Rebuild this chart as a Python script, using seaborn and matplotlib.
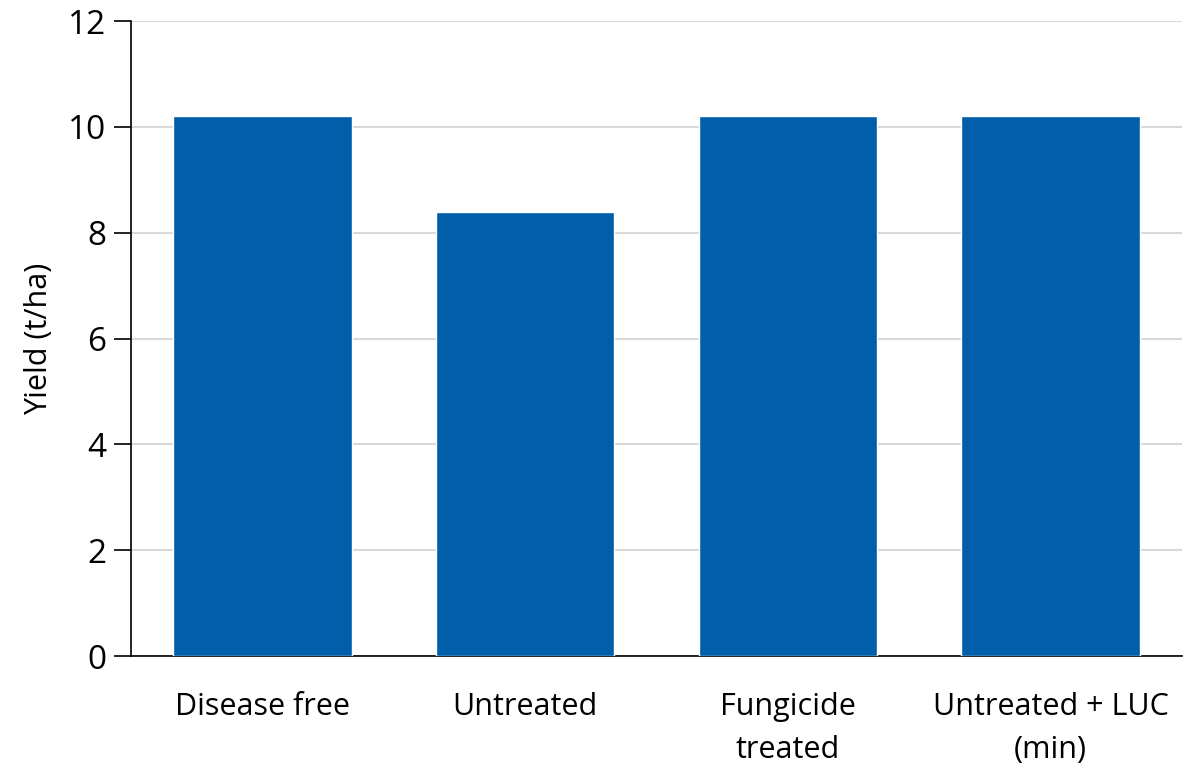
import matplotlib
matplotlib.use("Agg")
import matplotlib.pyplot as plt
import pandas as pd
import seaborn as sns

# values
categories = ["Disease free", "Untreated", "Fungicide\ntreated", "Untreated + LUC\n(min)"]
yield_t_ha = [10.2, 8.4, 10.2, 10.2]
y_ticks = [0, 2, 4, 6, 8, 10, 12]

df = pd.DataFrame({"treatment": categories, "yield": yield_t_ha})

sns.set_style("white")
plt.rcParams["font.family"] = ["Open Sans", "DejaVu Sans"]
plt.rcParams["text.color"] = "black"
plt.rcParams["axes.labelcolor"] = "black"
plt.rcParams["xtick.color"] = "black"
plt.rcParams["ytick.color"] = "black"

fig = plt.figure(figsize=(11.91, 7.70), dpi=100)
ax = fig.add_axes([0.110, 0.148, 0.8825, 0.8247])

sns.barplot(data=df, x="treatment", y="yield", color="#005EAA",
            saturation=1, width=0.68, ax=ax, zorder=3)

ax.set_ylim(0, 12)
ax.set_yticks(y_ticks)
ax.yaxis.grid(True, color="#d9d9d9", linewidth=1.5, zorder=0)
ax.set_axisbelow(True)

for side in ["top", "right"]:
    ax.spines[side].set_visible(False)
for side in ["left", "bottom"]:
    ax.spines[side].set_color("black")
    ax.spines[side].set_linewidth(1.2)

ax.tick_params(axis="y", which="major", length=12, width=1.2, color="black",
               labelsize=24, labelcolor="black", pad=6, left=True)
ax.tick_params(axis="x", length=0, labelsize=22, labelcolor="black", pad=26)
for lbl in ax.get_xticklabels():
    lbl.set_linespacing(1.55)

ax.set_xlabel("")
ax.set_ylabel("Yield (t/ha)", fontsize=22, labelpad=10)

fig.savefig("out.png", dpi=100)
